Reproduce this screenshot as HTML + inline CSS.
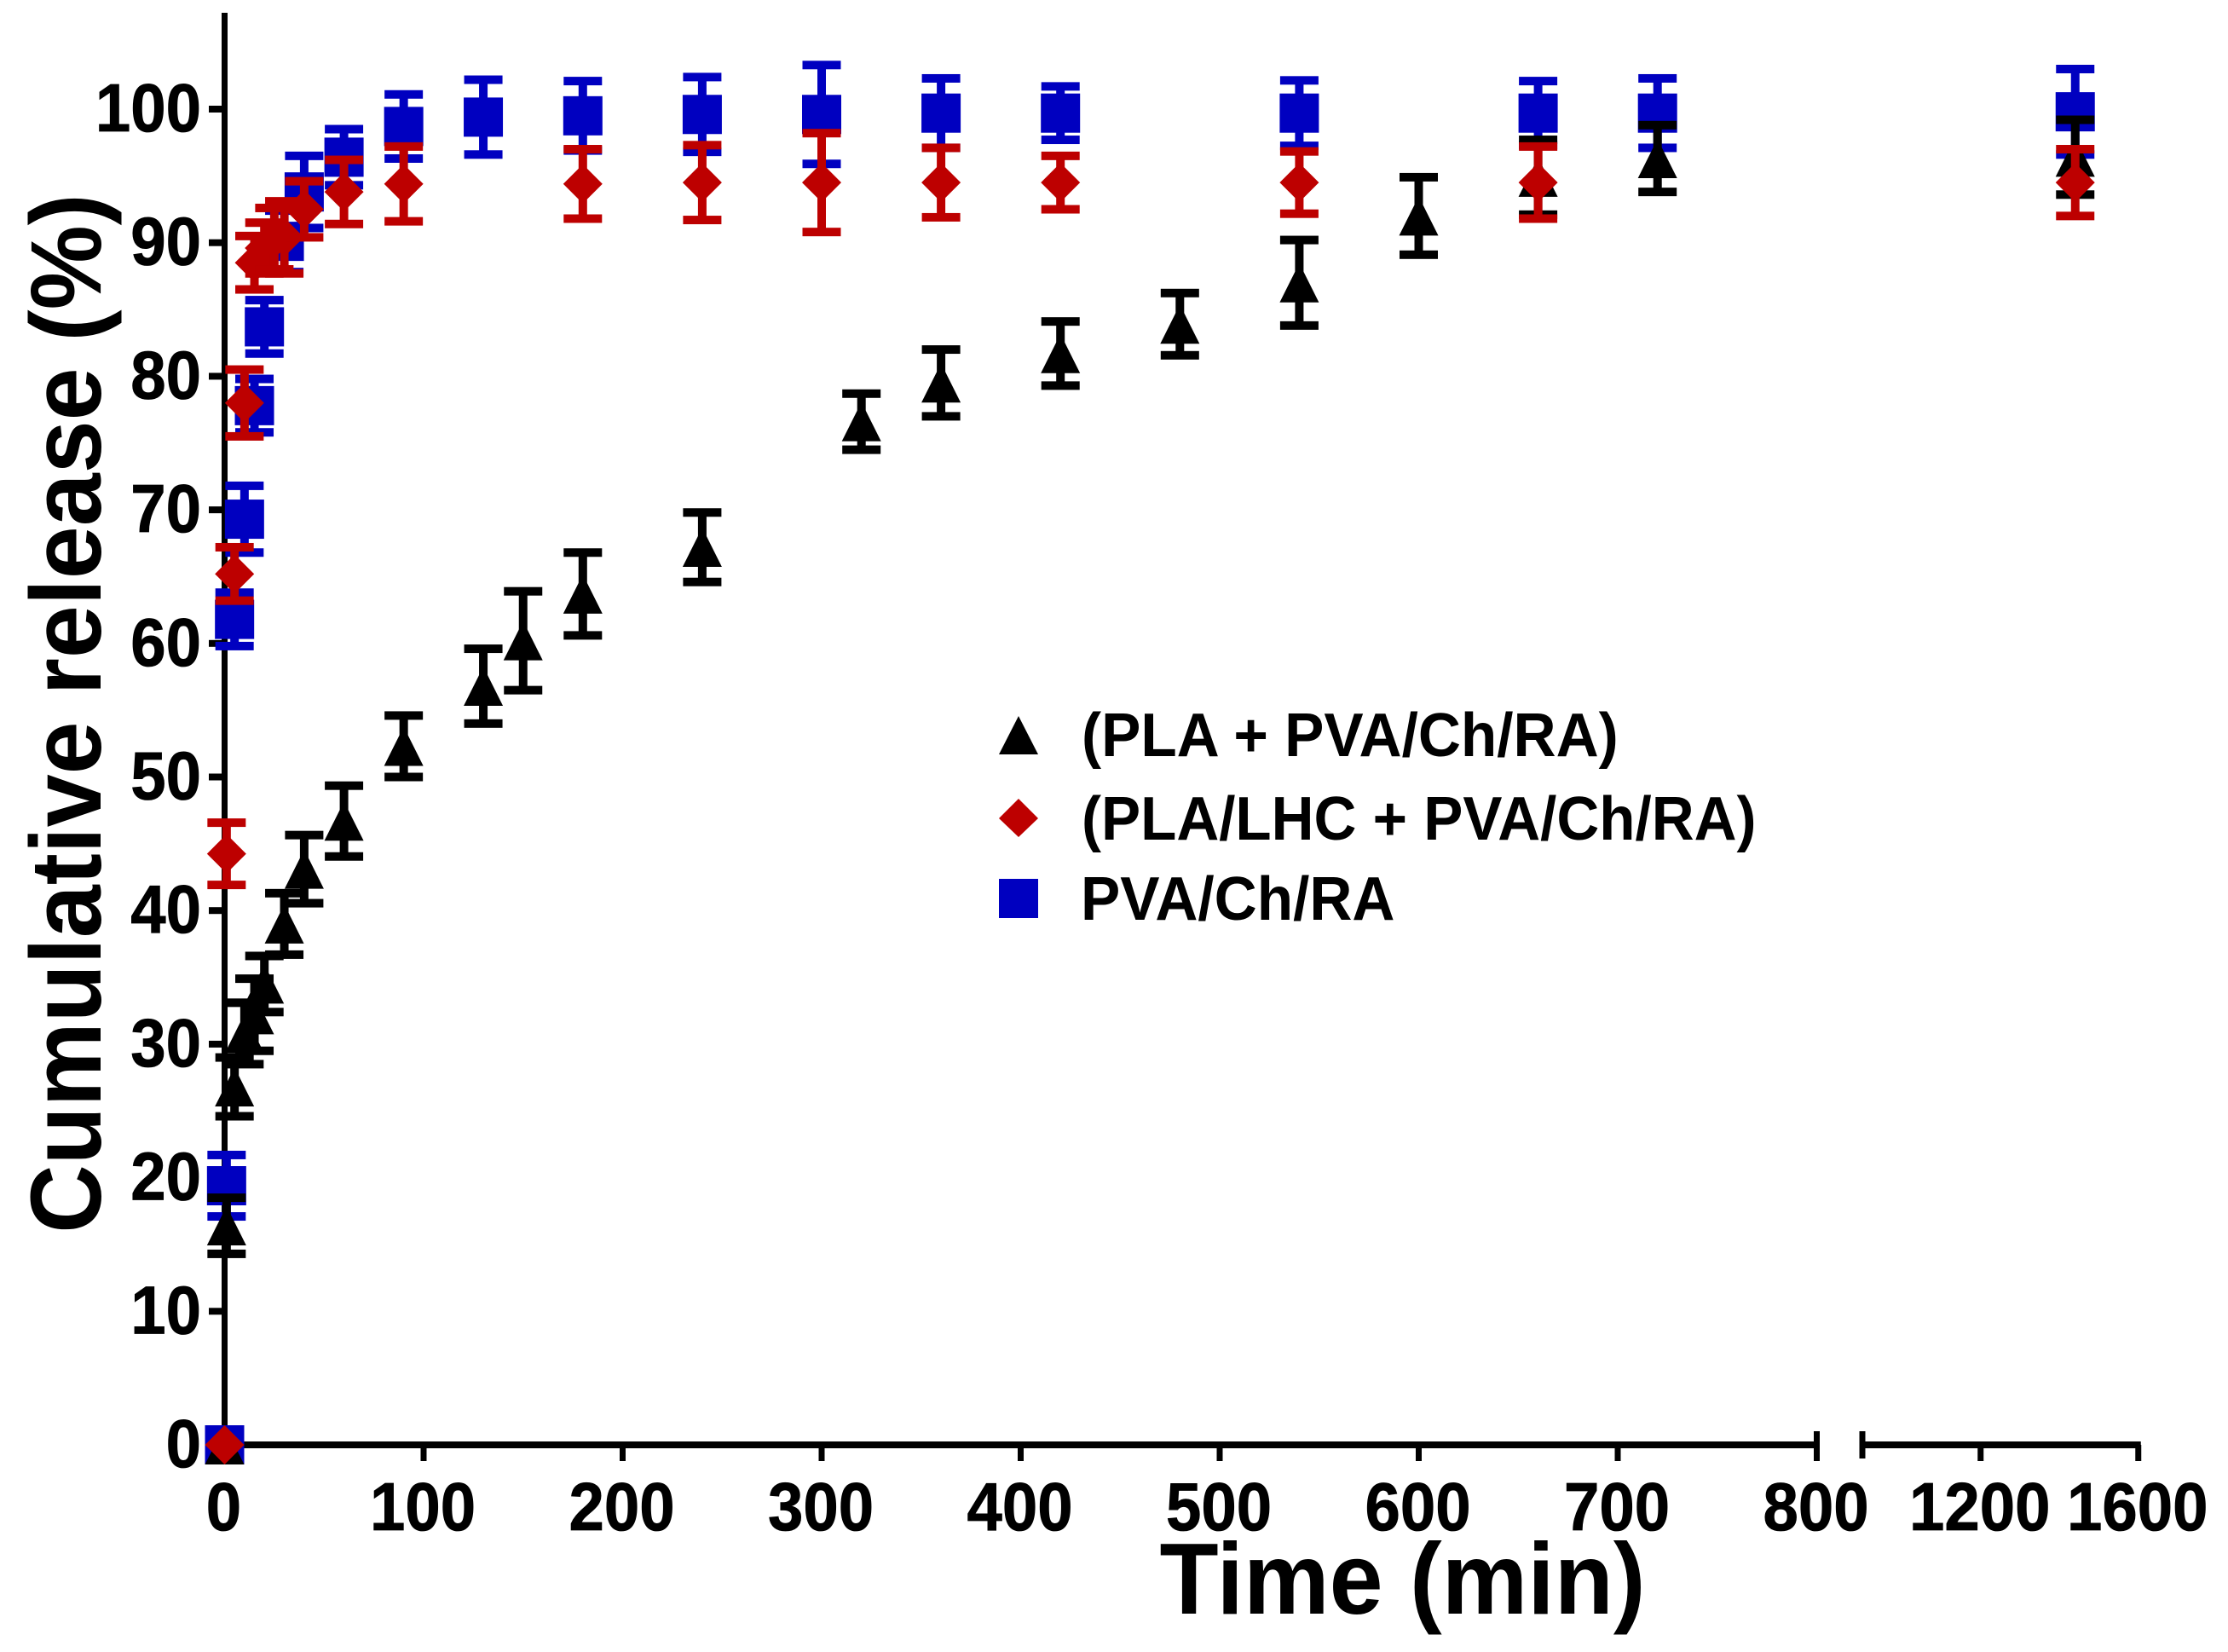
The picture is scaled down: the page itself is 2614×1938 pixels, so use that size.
<!DOCTYPE html>
<html lang="en">
<head>
<meta charset="utf-8">
<title>Cumulative release over time</title>
<style>
  html, body { margin: 0; padding: 0; background: #ffffff; }
  svg { display: block; }
  text { font-family: "Liberation Sans", sans-serif; font-weight: bold; fill: #000000; }
</style>
</head>
<body>
<svg id="chart" xmlns="http://www.w3.org/2000/svg" width="2614" height="1938" viewBox="0 0 2614 1938">
  <rect x="0" y="0" width="2614" height="1938" fill="#ffffff"/>
  <g id="axes"></g>
  <g id="series"></g>
  <text transform="translate(118,837) rotate(-90) scale(0.944,1)" text-anchor="middle" font-size="118">Cumulative release (%)</text>
  <text transform="translate(1645.5,1893) scale(0.951,1)" text-anchor="middle" font-size="119">Time (min)</text>
  <g>
    <g>
      <polygon points="1195,840 1218,885 1172,885" fill="#000000"/>
      <text transform="translate(1269,887) scale(0.963,1)" font-size="72">(PLA + PVA/Ch/RA)</text>
    </g>
    <g>
      <polygon points="1195,937 1218,960 1195,982 1172,960" fill="#BD0000"/>
      <text transform="translate(1269,985) scale(0.96,1)" font-size="72">(PLA/LHC + PVA/Ch/RA)</text>
    </g>
    <g>
      <rect x="1172" y="1031" width="46" height="46" fill="#0000C0"/>
      <text transform="translate(1268,1079) scale(0.963,1)" font-size="72">PVA/Ch/RA</text>
    </g>
  </g>
</svg>
<script>
const blueTimes = [0, 1, 5, 10, 15, 20, 30, 40, 60, 90, 130, 180, 240, 300, 360, 420, 540, 660, 720, 1440];
const blueValues = [0, 19.4, 61.8, 69.3, 77.8, 83.7, 90.1, 93.8, 96.4, 98.7, 99.4, 99.5, 99.6, 99.6, 99.7, 99.7, 99.7, 99.7, 99.7, 99.8];
const blueErrors = [0, 2.3, 2.0, 2.5, 2.0, 2.0, 2.3, 2.7, 2.1, 2.4, 2.8, 2.6, 2.8, 3.7, 2.6, 2.0, 2.45, 2.4, 2.6, 3.2];

const blackTimes = [0, 1, 5, 10, 15, 20, 30, 40, 60, 90, 130, 150, 180, 240, 320, 360, 420, 480, 540, 600, 660, 720, 1440];
const blackValues = [0, 16.4, 26.8, 30.8, 32.2, 34.5, 39, 43.1, 46.7, 52.3, 56.8, 60.2, 63.7, 67.2, 76.6, 79.5, 81.7, 83.9, 87, 92, 94.9, 96.3, 96.4];
const blackErrors = [0, 2.1, 2.2, 2.3, 2.7, 2.1, 2.3, 2.55, 2.65, 2.3, 2.8, 3.7, 3.1, 2.6, 2.1, 2.5, 2.4, 2.33, 3.2, 2.9, 2.8, 2.5, 2.8];

const redTimes = [0, 1, 5, 10, 15, 20, 25, 30, 40, 60, 90, 180, 240, 300, 360, 420, 540, 660, 1440];
const redValues = [0, 44.25, 65.2, 78, 88.5, 89.6, 90.3, 90.4, 92.5, 93.8, 94.4, 94.4, 94.5, 94.5, 94.5, 94.5, 94.5, 94.5, 94.5];
const redErrors = [0, 2.33, 2.0, 2.5, 2.0, 1.9, 2.3, 2.7, 2.1, 2.4, 2.8, 2.6, 2.8, 3.7, 2.6, 2.0, 2.33, 2.7, 2.5];

const yTickValues = [0, 10, 20, 30, 40, 50, 60, 70, 80, 90, 100];
const xTickValuesLeft = [0, 100, 200, 300, 400, 500, 600, 700, 800];
const xTickValuesRight = [1200, 1600];
const breakLeftEnd = 800;
const breakRightStart = 900;

const SVG_NS = 'http://www.w3.org/2000/svg';
const BLUE = '#0000C0';
const RED = '#BD0000';
const BLACK = '#000000';
const MARKER_HALF = 23;
const CAP_HALF = 22.5;
const LINE_WIDTH = 10;

function xScale(t) {
  if (t <= breakLeftEnd) {
    return 263.5 + t * 2.335;
  }
  return 2185 + (t - breakRightStart) * 0.4625;
}

function yScale(v) {
  return 1695 - v * 15.67;
}

function shape(parent, tag, attrs) {
  const el = document.createElementNS(SVG_NS, tag);
  for (const key in attrs) {
    el.setAttribute(key, attrs[key]);
  }
  parent.appendChild(el);
  return el;
}

function drawSeries(name, times, values, errors, color, markerType) {
  const root = document.getElementById('series');
  const group = shape(root, 'g', {});
  
  
  times.forEach(function (t, i) {
    const cx = xScale(t);
    const cy = yScale(values[i]);
    const err = errors[i];
    if (err > 0) {
      const top = yScale(values[i] + err);
      const bottom = yScale(values[i] - err);
      const stem = shape(group, 'rect', { x: cx - LINE_WIDTH / 2, y: top, width: LINE_WIDTH, height: bottom - top, fill: color });
      
      
      const capTop = shape(group, 'rect', { x: cx - CAP_HALF, y: top - 5, width: CAP_HALF * 2, height: LINE_WIDTH, fill: color });
      
      
      const capBottom = shape(group, 'rect', { x: cx - CAP_HALF, y: bottom - 5, width: CAP_HALF * 2, height: LINE_WIDTH, fill: color });
      
      
    }
    let marker;
    const h = MARKER_HALF;
    if (markerType === 'square') {
      marker = shape(group, 'rect', { x: cx - h, y: cy - h, width: h * 2, height: h * 2, fill: color });
    } else if (markerType === 'triangle') {
      marker = shape(group, 'polygon', { points: cx + ',' + (cy - h) + ' ' + (cx + h) + ',' + (cy + h) + ' ' + (cx - h) + ',' + (cy + h), fill: color });
    } else {
      marker = shape(group, 'polygon', { points: cx + ',' + (cy - h) + ' ' + (cx + h) + ',' + cy + ' ' + cx + ',' + (cy + h) + ' ' + (cx - h) + ',' + cy, fill: color });
    }
    
    
  });
}

function drawAxes() {
  const root = document.getElementById('axes');
  const yLine = shape(root, 'rect', { x: 260, y: 15, width: 7, height: 1684, fill: BLACK });
  
  

  yTickValues.forEach(function (v) {
    const py = yScale(v);
    const tick = shape(root, 'rect', { x: 245, y: py - 4, width: 16, height: 8, fill: BLACK });
    
    
    const label = shape(root, 'text', { transform: 'translate(236,' + (py + 26) + ') scale(0.93,1)', 'text-anchor': 'end', 'font-size': 80, stroke: BLACK, 'stroke-width': 0.8 });
    label.textContent = String(v);
    
    
  });

  const leftEnd = xScale(breakLeftEnd);
  const leftLine = shape(root, 'rect', { x: 263, y: 1691, width: leftEnd - 263, height: 8, fill: BLACK });
  
  

  const rightStart = xScale(breakRightStart);
  const rightEnd = xScale(xTickValuesRight[xTickValuesRight.length - 1]);
  const rightLine = shape(root, 'rect', { x: rightStart, y: 1691, width: rightEnd - rightStart + 3, height: 8, fill: BLACK });
  
  

  const breakLeft = shape(root, 'rect', { x: leftEnd - 3.5, y: 1679, width: 7, height: 35, fill: BLACK });
  
  
  const breakRight = shape(root, 'rect', { x: rightStart - 3.5, y: 1679, width: 7, height: 32, fill: BLACK });
  
  

  xTickValuesLeft.concat(xTickValuesRight).forEach(function (t) {
    const px = xScale(t);
    const tick = shape(root, 'rect', { x: px - 3.5, y: 1695, width: 7, height: 19, fill: BLACK });
    
    
    const labelX = px - 1;
    const label = shape(root, 'text', { transform: 'translate(' + labelX + ',1795) scale(0.93,1)', 'text-anchor': 'middle', 'font-size': 80, stroke: BLACK, 'stroke-width': 0.8 });
    label.textContent = String(t);
    
    
  });
}

drawAxes();
drawSeries('pva-ch-ra', blueTimes, blueValues, blueErrors, BLUE, 'square');
drawSeries('pla-pva-ch-ra', blackTimes, blackValues, blackErrors, BLACK, 'triangle');
drawSeries('pla-lhc-pva-ch-ra', redTimes, redValues, redErrors, RED, 'diamond');
</script>
</body>
</html>
